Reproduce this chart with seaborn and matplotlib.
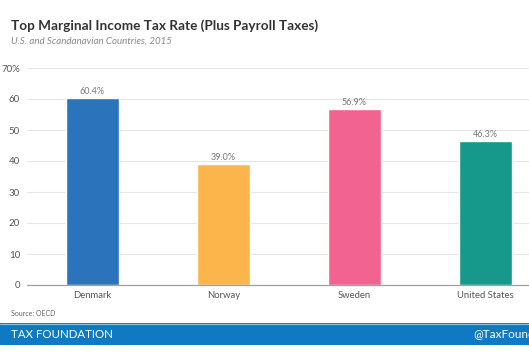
import matplotlib
matplotlib.use("Agg")
import matplotlib.pyplot as plt
import seaborn as sns
import pandas as pd
from matplotlib.patches import Rectangle

countries = ["Denmark", "Norway", "Sweden", "United States"]
rates = [60.4, 39.0, 56.9, 46.3]
colors = ["#2b73bb", "#fbb54b", "#f26391", "#16998a"]
yticks = [0, 10, 20, 30, 40, 50, 60, 70]
ytick_labels = ["0", "10", "20", "30", "40", "50", "60", "70%"]

sns.set_theme(style="white")
plt.rcParams["font.family"] = ["Lato", "DejaVu Sans"]

W, H = 529, 356
fig = plt.figure(figsize=(W / 100, H / 100), dpi=100)
fig.patch.set_facecolor("white")

left, right, top, bottom = 27, 529, 68, 285
ax = fig.add_axes([left / W, 1 - bottom / H, (right - left) / W, (bottom - top) / H])

df = pd.DataFrame({"country": countries, "rate": rates})
sns.barplot(data=df, x="country", y="rate", hue="country", palette=colors,
            width=0.4, legend=False, ax=ax, saturation=1)

ax.set_xlim(-0.5, (right - left) / 131 - 0.5)
ax.set_ylim(0, 70)
ax.set_yticks(yticks)
ax.set_yticklabels(ytick_labels)
ax.grid(axis="y", color="#e6e6e6", linewidth=0.8)
ax.set_axisbelow(True)
for s in ["top", "right", "left"]:
    ax.spines[s].set_visible(False)
ax.spines["bottom"].set_color("#a0a0a0")
ax.spines["bottom"].set_linewidth(0.9)
ax.tick_params(axis="y", length=0, labelsize=7, labelcolor="#555555", pad=5)
ax.tick_params(axis="x", length=0, labelsize=6.8, labelcolor="#555555", pad=4)
ax.set_xlabel("")
ax.set_ylabel("")

for cont in ax.containers:
    ax.bar_label(cont, labels=[f"{v:.1f}%" for v in cont.datavalues],
                 fontsize=6.5, color="#777777", padding=1.5)

fig.text(11 / W, 1 - 26 / H, "Top Marginal Income Tax Rate (Plus Payroll Taxes)",
         fontsize=9.8, fontweight="bold", color="#333333", va="center", ha="left")
fig.text(11 / W, 1 - 41.5 / H, "U.S. and Scandanavian Countries, 2015",
         fontsize=7, style="italic", color="#888888", va="center", ha="left")
fig.text(11 / W, 1 - 313 / H, "Source: OECD", fontsize=5, color="#666666",
         va="center", ha="left")

band = Rectangle((0, 1 - 345 / H), 1, 22 / H, transform=fig.transFigure,
                 facecolor="#0f7ac3", edgecolor="none")
fig.patches.append(band)
fig.add_artist(plt.Line2D([0, 1], [1 - 323.5 / H, 1 - 323.5 / H], transform=fig.transFigure,
                          color="#8fc3e6", linewidth=0.8))
fig.text(11 / W, 1 - 334 / H, "TAX FOUNDATION", fontsize=8.3, color="white",
         va="center", ha="left")
fig.text(473 / W, 1 - 334 / H, "@TaxFoundation", fontsize=8.5, color="white",
         va="center", ha="left")

fig.savefig("out.png", dpi=100)
